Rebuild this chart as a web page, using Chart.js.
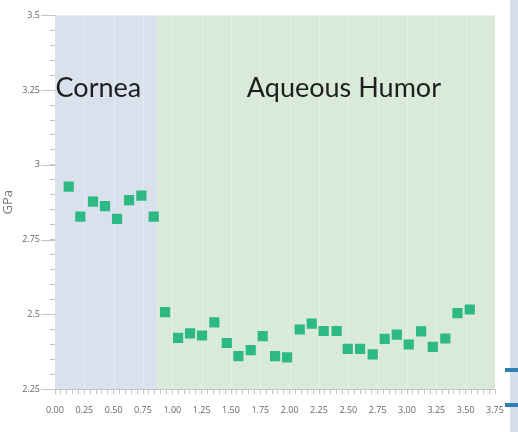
<!DOCTYPE html>
<html>
<head>
<meta charset="utf-8">
<script src="https://cdn.jsdelivr.net/npm/chart.js@4.4.0/dist/chart.umd.min.js"></script>
<style>
  body { margin: 0; background: #fff; }
  #wrap { position: relative; width: 518px; height: 432px; overflow: hidden; }
  #strip { position: absolute; left: 510px; top: 0; width: 8px; height: 432px; background: #d6deea; }
  .mark { position: absolute; left: 505px; width: 13px; height: 4px; background: #2f7fb5; }
</style>
</head>
<body>
<div id="wrap">
  <canvas id="chart" width="518" height="432"></canvas>
  <div id="strip"></div>
  <div class="mark" style="top:368px"></div>
  <div class="mark" style="top:403px"></div>
</div>
<script>
// posiciones x de cada medida
const xValues = [0.117, 0.216, 0.324, 0.426, 0.529, 0.631, 0.736, 0.841,
  0.938, 1.049, 1.151, 1.253, 1.358, 1.464, 1.563, 1.668, 1.770, 1.876, 1.978,
  2.086, 2.188, 2.290, 2.400, 2.495, 2.600, 2.708, 2.810, 2.913, 3.015, 3.120,
  3.220, 3.327, 3.430, 3.535];
// valores en GPa
const gpaValues = [2.927, 2.827, 2.877, 2.862, 2.819, 2.882, 2.897, 2.827,
  2.507, 2.421, 2.436, 2.429, 2.473, 2.404, 2.360, 2.380, 2.427, 2.360, 2.356,
  2.449, 2.469, 2.444, 2.444, 2.384, 2.384, 2.366, 2.418, 2.432, 2.399, 2.443,
  2.391, 2.419, 2.504, 2.516];
// regiones de fondo
const regionNames = ['Cornea', 'Aqueous Humor'];
const regionStart = [0, 0.875];
const regionEnd = [0.875, 3.75];
const regionColors = ['#d9e1ec', '#d9ead8'];
const regionLabelX = [0.005, 1.635];
const regionLabelY = 3.255;
// marcas principales del eje y
const yMajorTicks = [2.25, 2.5, 2.75, 3, 3.25, 3.5];

const points = xValues.map((x, i) => ({ x: x, y: gpaValues[i] }));

const regionsPlugin = {
  id: 'regions',
  beforeDatasetsDraw(chart) {
    const ctx = chart.ctx;
    const xs = chart.scales.x, ys = chart.scales.y;
    const top = ys.getPixelForValue(3.5), bottom = ys.getPixelForValue(2.25);
    ctx.save();
    regionNames.forEach((name, i) => {
      const l = xs.getPixelForValue(regionStart[i]);
      const r = xs.getPixelForValue(regionEnd[i]);
      ctx.fillStyle = regionColors[i];
      ctx.fillRect(l, top, r - l, bottom - top);
    });
    // lineas de rejilla muy tenues
    ctx.strokeStyle = 'rgba(255,255,255,0.3)';
    ctx.lineWidth = 1;
    for (let v = 0.25; v < 3.75; v += 0.25) {
      const px = Math.round(xs.getPixelForValue(v)) + 0.5;
      ctx.beginPath(); ctx.moveTo(px, top); ctx.lineTo(px, bottom); ctx.stroke();
    }
    ctx.fillStyle = '#1e1e1e';
    ctx.font = '27px Lato';
    ctx.textBaseline = 'middle';
    regionNames.forEach((name, i) => {
      ctx.fillText(name, xs.getPixelForValue(regionLabelX[i]), ys.getPixelForValue(regionLabelY));
    });
    ctx.restore();
  },
  afterDraw(chart) {
    // marcas largas en los valores principales del eje y
    const ctx = chart.ctx;
    const ys = chart.scales.y;
    const left = chart.chartArea.left;
    ctx.save();
    ctx.strokeStyle = '#c4c4c4';
    ctx.lineWidth = 1;
    yMajorTicks.forEach(v => {
      const py = Math.round(ys.getPixelForValue(v)) + 0.5;
      ctx.beginPath(); ctx.moveTo(left - 14, py); ctx.lineTo(left, py); ctx.stroke();
    });
    ctx.restore();
  }
};

new Chart(document.getElementById('chart'), {
  type: 'scatter',
  data: {
    datasets: [{
      data: points,
      pointStyle: 'rect',
      pointRadius: 7.2,
      pointHoverRadius: 7.2,
      backgroundColor: '#2cb983',
      borderColor: '#2cb983',
      borderWidth: 0
    }]
  },
  plugins: [regionsPlugin],
  options: {
    responsive: false,
    animation: false,
    layout: { padding: { top: 14, right: 23, left: 0, bottom: 0 } },
    plugins: { legend: { display: false }, tooltip: { enabled: false } },
    scales: {
      x: {
        type: 'linear',
        min: 0, max: 3.75,
        afterFit(scale) { scale.height = 43; },
        afterBuildTicks(scale) {
          const t = [];
          for (let i = 0; i <= 75; i++) t.push({ value: i * 0.05 });
          scale.ticks = t;
        },
        ticks: {
          autoSkip: false,
          maxRotation: 0,
          padding: 11,
          color: '#666',
          font: { size: 9, family: 'Open Sans' },
          callback(v) {
            const k = Math.round(v / 0.05);
            return k % 5 === 0 ? v.toFixed(2) : '';
          }
        },
        grid: { drawOnChartArea: false, tickLength: 5, tickColor: '#c4c4c4', color: '#c4c4c4' },
        border: { color: '#c4c4c4' }
      },
      y: {
        min: 2.25, max: 3.5,
        afterFit(scale) { scale.width = 55; },
        afterBuildTicks(scale) {
          const t = [];
          for (let i = 0; i <= 25; i++) t.push({ value: 2.25 + i * 0.05 });
          scale.ticks = t;
        },
        title: { display: true, text: 'GPa', color: '#777', font: { size: 13, family: 'Open Sans' }, padding: 0 },
        ticks: {
          autoSkip: false,
          padding: 10,
          color: '#666',
          font: { size: 9, family: 'Open Sans' },
          callback(v) {
            const k = Math.round((v - 2.25) / 0.05);
            if (k % 5 !== 0) return '';
            return String(Math.round(v * 100) / 100);
          }
        },
        grid: { drawOnChartArea: false, tickLength: 5, tickColor: '#c4c4c4', color: '#c4c4c4' },
        border: { color: '#c4c4c4' }
      }
    }
  }
});
</script>
</body>
</html>
